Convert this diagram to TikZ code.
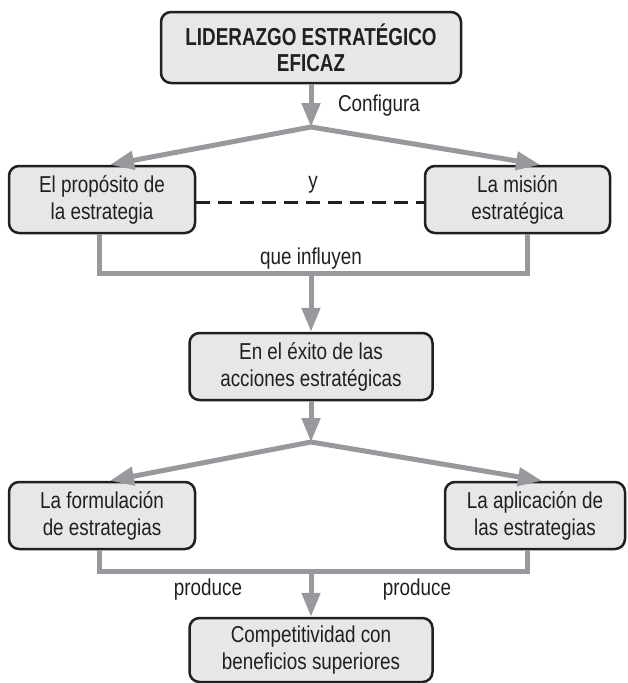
\documentclass[tikz,border=0pt]{standalone}
\usepackage{fontspec}
\setmainfont{Liberation Sans}[FakeStretch=0.82, BoldFeatures={FakeStretch=0.77}]
\usepackage{xcolor}
\usepackage{tikz}
\usetikzlibrary{arrows.meta}

\definecolor{grisflecha}{RGB}{152,153,157}
\definecolor{grisfondo}{RGB}{230,231,232}
\definecolor{borde}{RGB}{35,31,32}

\begin{document}
\begin{tikzpicture}[x=1pt, y=-1pt,
    caja/.style={draw=borde, line width=2.5pt, fill=grisfondo, rounded corners=10pt,
        inner sep=0pt, align=center, text=borde,
        font=\fontsize{23}{27}\selectfont},
    etiqueta/.style={inner sep=0pt, text=borde, font=\fontsize{23}{27}\selectfont},
    linea/.style={draw=grisflecha, line width=5pt},
    flecha/.style={linea, -{Triangle[length=24pt, width=18pt]}}]
    \useasboundingbox (0,0) rectangle (627,683);

    % Cajas
    \node[caja, minimum width=300pt, minimum height=71pt,
        font=\fontsize{24.5}{26}\selectfont\bfseries] (lider) at (311,47.5)
        {LIDERAZGO ESTRATÉGICO\\EFICAZ};
    \node[caja, minimum width=186pt, minimum height=67pt] (proposito) at (102,199.5)
        {El propósito de\\la estrategia};
    \node[caja, minimum width=185pt, minimum height=67pt] (mision) at (517.5,199.5)
        {La misión\\estratégica};
    \node[caja, minimum width=243pt, minimum height=67pt] (exito) at (311,366.5)
        {En el éxito de las\\acciones estratégicas};
    \node[caja, minimum width=186pt, minimum height=67pt] (formulacion) at (102,515.5)
        {La formulación\\de estrategias};
    \node[caja, minimum width=180pt, minimum height=67pt] (aplicacion) at (535,515.5)
        {La aplicación de\\las estrategias};
    \node[caja, minimum width=243pt, minimum height=64pt] (competitividad) at (311,650)
        {Competitividad con\\beneficios superiores};

    % Puntos de unión
    \coordinate (b1) at (311,127);
    \coordinate (u1) at (311,273);
    \coordinate (b2) at (311,442);
    \coordinate (u2) at (311,571);

    % Primer nivel
    \draw[flecha] (lider) -- (b1);
    \draw[flecha, {Triangle[length=24pt, width=18pt]}-{Triangle[length=24pt, width=18pt]}]
        ([xshift=8pt]proposito.north) -- (b1) -- ([xshift=22.5pt]mision.north);
    \node[etiqueta] (configura) at (379,106) {Configura};
    \draw[borde, line width=3pt, dash pattern=on 14pt off 8pt]
        ([yshift=-2.5pt]proposito.east) -- ([yshift=-2.5pt]mision.west);
    \node[etiqueta] (ylbl) at (313,185) {y};

    % que influyen
    \draw[linea] ([xshift=-3pt]proposito.south) |- (u1) -| ([xshift=9.5pt]mision.south);
    \draw[flecha] (u1) -- (exito.north);
    \node[etiqueta] (influyen) at (311,259) {que influyen};

    % Segundo nivel
    \draw[flecha] (exito) -- (b2);
    \draw[flecha, {Triangle[length=24pt, width=18pt]}-{Triangle[length=24pt, width=18pt]}]
        ([xshift=8pt]formulacion.north) -- (b2) -- ([xshift=7pt]aplicacion.north);

    % produce
    \draw[linea] ([xshift=-3pt]formulacion.south) |- (u2) -| ([xshift=-8pt]aplicacion.south);
    \draw[flecha] (u2) -- (competitividad.north);
    \node[etiqueta] (produceL) at (208,590) {produce};
    \node[etiqueta] (produceR) at (417,590) {produce};
\end{tikzpicture}
\end{document}
